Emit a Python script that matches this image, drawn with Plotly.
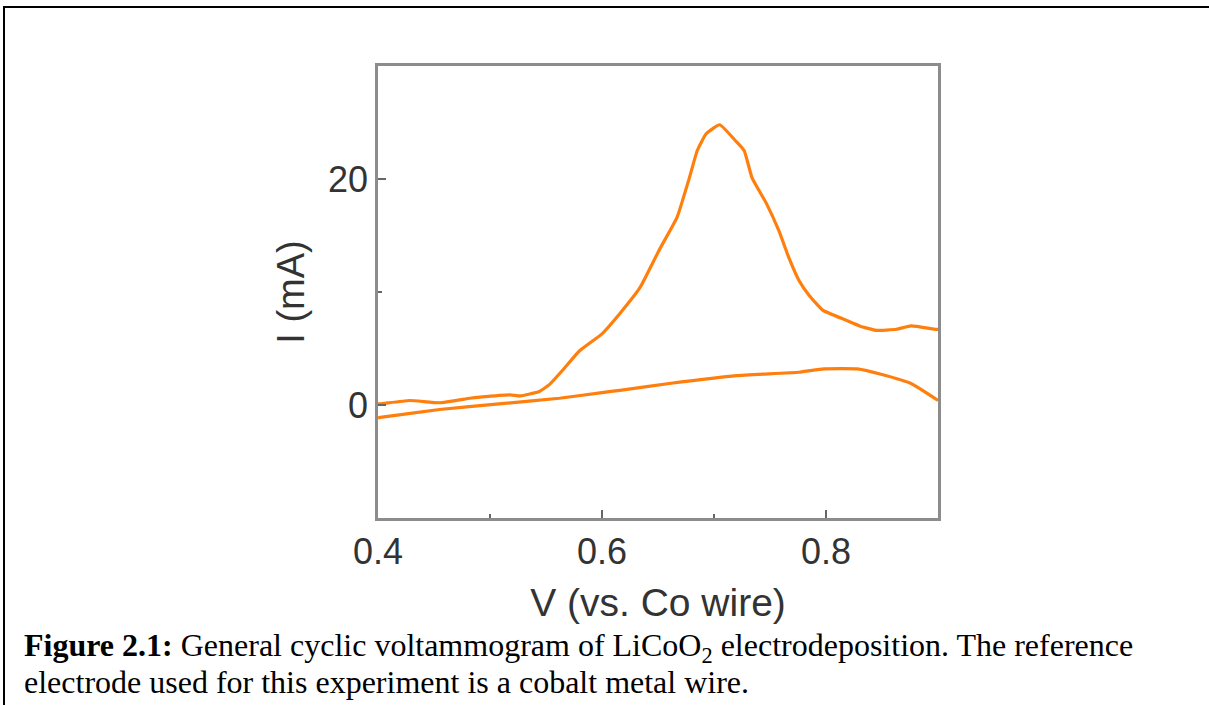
import plotly.graph_objects as go

# Forward (anodic) scan, V vs Co wire
v_forward = [0.400, 0.402, 0.428, 0.455, 0.482, 0.491, 0.518, 0.527, 0.544, 0.553, 0.565, 0.580,
             0.600, 0.616, 0.634, 0.651, 0.667, 0.678, 0.685, 0.693, 0.705, 0.720, 0.727,
             0.734, 0.747, 0.758, 0.767, 0.776, 0.785, 0.797, 0.818, 0.830, 0.845, 0.863,
             0.876, 0.898, 0.900]
i_forward = [0.1, 0.1, 0.4, 0.2, 0.6, 0.7, 0.9, 0.8, 1.2, 1.8, 3.1, 4.8,
             6.3, 8.1, 10.4, 13.7, 16.6, 20.1, 22.5, 24.0, 24.8, 23.3, 22.5,
             20.1, 17.8, 15.4, 13.0, 11.0, 9.7, 8.4, 7.5, 7.0, 6.6, 6.7,
             7.0, 6.7, 6.7]

# Reverse scan
v_reverse = [0.900, 0.876, 0.850, 0.828, 0.798, 0.776, 0.720, 0.660, 0.616, 0.600,
             0.562, 0.508, 0.455, 0.402, 0.400]
i_reverse = [0.4, 1.9, 2.7, 3.2, 3.2, 2.9, 2.6, 1.9, 1.3, 1.1,
             0.6, 0.1, -0.4, -1.1, -1.15]

x_ticks = [0.4, 0.6, 0.8]
x_ticklabels = ["0.4", "0.6", "0.8"]
y_ticks = [0, 20]
y_ticklabels = ["0", "20"]

ORANGE = "#ff7f0e"
W, H = 1209, 705
L, R, T, B = 378, 938, 66, 518

fig = go.Figure()
fig.add_trace(go.Scatter(x=v_forward, y=i_forward, mode="lines",
                         line=dict(color=ORANGE, width=3.2, shape="spline", smoothing=0.4),
                         showlegend=False, hoverinfo="skip"))
fig.add_trace(go.Scatter(x=v_reverse, y=i_reverse, mode="lines",
                         line=dict(color=ORANGE, width=3.2, shape="spline", smoothing=0.4),
                         showlegend=False, hoverinfo="skip"))

tick_font = dict(family="Liberation Sans, Arial, sans-serif", size=36, color="#333333")
title_font = dict(family="Liberation Sans, Arial, sans-serif", size=39, color="#333333")

fig.update_xaxes(range=[0.4, 0.9], tickvals=x_ticks, ticktext=x_ticklabels,
                 ticks="inside", ticklen=8, tickwidth=1.5, tickcolor="#666666",
                 minor=dict(tickvals=[0.5, 0.7], ticks="inside", ticklen=4, tickcolor="#666666", tickwidth=1.5),
                 showline=True, linecolor="#8c8c8c", linewidth=2.5, mirror=True,
                 showgrid=False, zeroline=False, tickfont=tick_font,
                 title=dict(text="V (vs. Co wire)", font=title_font, standoff=18))
fig.update_yaxes(range=[-10, 30], tickvals=y_ticks, ticktext=y_ticklabels,
                 ticks="inside", ticklen=8, tickwidth=1.5, tickcolor="#666666",
                 minor=dict(tickvals=[10], ticks="inside", ticklen=4, tickcolor="#666666", tickwidth=1.5),
                 showline=True, linecolor="#8c8c8c", linewidth=2.5, mirror=True,
                 showgrid=False, zeroline=False, tickfont=tick_font,
                 title=dict(text="I (mA)", font=dict(tick_font, size=38), standoff=12))

def px_x(p):
    return (p - L) / (R - L)

def px_y(p):
    return (B - p) / (B - T)

caption_font = dict(family="Liberation Serif, Times New Roman, serif", size=32, color="black")
fig.add_annotation(xref="paper", yref="paper", x=px_x(22), y=px_y(647),
                   xanchor="left", yanchor="middle", showarrow=False, align="left",
                   text="<b>Figure 2.1:</b> General cyclic voltammogram of LiCoO<sub>2</sub> electrodeposition. The reference",
                   font=caption_font)
fig.add_annotation(xref="paper", yref="paper", x=px_x(22), y=px_y(682),
                   xanchor="left", yanchor="middle", showarrow=False, align="left",
                   text="electrode used for this experiment is a cobalt metal wire.",
                   font=caption_font)

# outer frame (left and top edges)
fig.add_shape(type="line", xref="paper", yref="paper", x0=px_x(4), x1=px_x(4), y0=px_y(6), y1=px_y(710),
              line=dict(color="black", width=2))
fig.add_shape(type="line", xref="paper", yref="paper", x0=px_x(3), x1=px_x(1215), y0=px_y(7), y1=px_y(7),
              line=dict(color="black", width=2))

fig.update_layout(width=W, height=H, autosize=False,
                  margin=dict(l=L, r=W - R, t=T, b=H - B),
                  paper_bgcolor="white", plot_bgcolor="white")

fig.write_html("out.html")
